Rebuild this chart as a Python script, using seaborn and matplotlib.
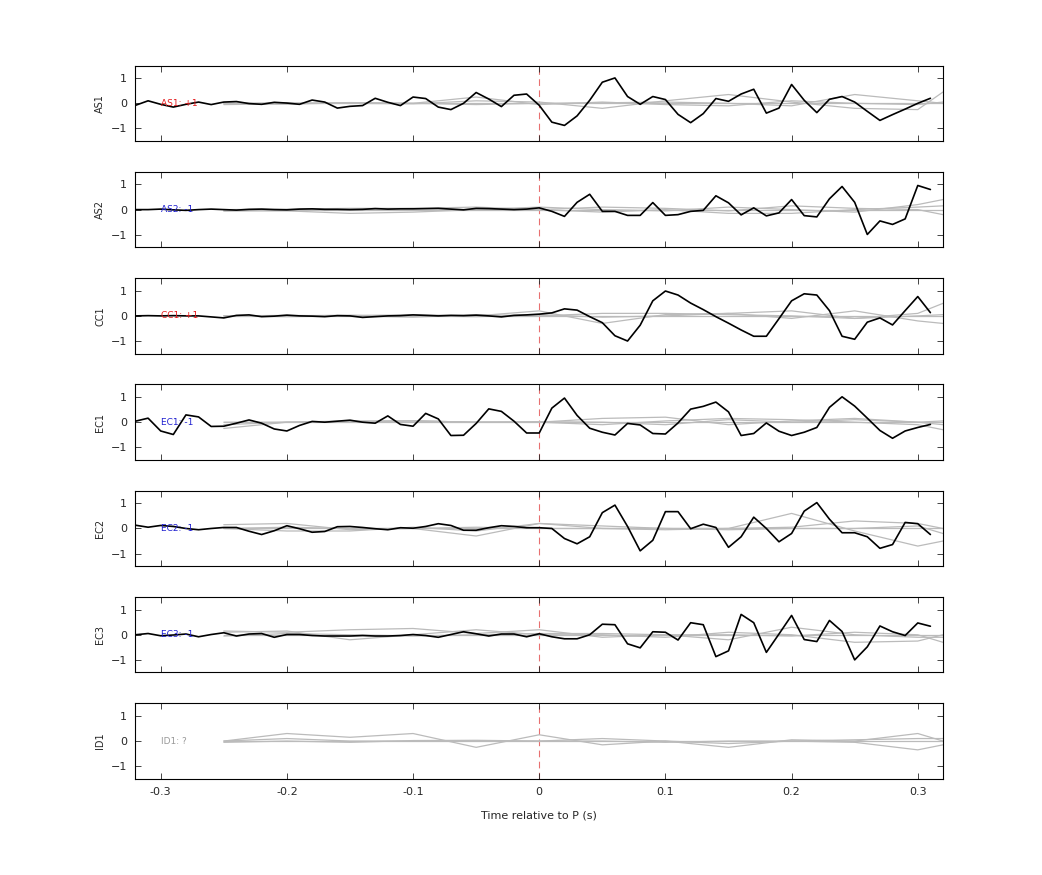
import numpy as np
import pandas as pd
import matplotlib
matplotlib.use("Agg")
import matplotlib.pyplot as plt
import seaborn as sns

stations = ["AS1", "AS2", "CC1", "EC1", "EC2", "EC3", "ID1"]
labels = ["AS1: +1", "AS2: -1", "CC1: +1", "EC1: -1", "EC2: -1", "EC3: -1", "ID1: ?"]
label_colors = ["#e41a1c", "#1f1fd0", "#e41a1c", "#1f1fd0", "#1f1fd0", "#1f1fd0", "#999999"]

t_black = np.round(np.arange(-0.32, 0.315, 0.01), 2)

as1 = [-0.08, 0.1, -0.04, -0.15, -0.04, 0.05, -0.05, 0.05, 0.07, -0.01, -0.04, 0.04, 0.01, -0.04, 0.13, 0.05,
       -0.19, -0.12, -0.09, 0.2, 0.04, -0.09, 0.25, 0.19, -0.15, -0.25, 0.0, 0.43, 0.17, -0.13, 0.32, 0.37,
       -0.08, -0.75, -0.88, -0.5, 0.12, 0.84, 1.01, 0.27, -0.04, 0.27, 0.15, -0.44, -0.77, -0.41, 0.19, 0.08,
       0.37, 0.56, -0.39, -0.19, 0.75, 0.12, -0.37, 0.16, 0.27, 0.05, -0.32, -0.68, -0.45, -0.23, 0.0, 0.2]
as2 = [0.0, 0.0, 0.02, -0.01, -0.03, 0.0, 0.02, 0.0, -0.02, 0.01, 0.02, 0.0, -0.01, 0.02, 0.03, 0.01,
       0.01, 0.0, 0.01, 0.04, 0.02, 0.03, 0.03, 0.04, 0.05, 0.02, -0.01, 0.05, 0.04, 0.02, 0.0, 0.02,
       0.07, -0.07, -0.27, 0.29, 0.61, -0.07, -0.07, -0.23, -0.23, 0.28, -0.23, -0.2, -0.07, -0.03, 0.55, 0.27,
       -0.21, 0.07, -0.25, -0.13, 0.4, -0.24, -0.29, 0.43, 0.92, 0.29, -0.99, -0.45, -0.59, -0.37, 0.96, 0.8]
cc1 = [0.0, 0.01, 0.0, 0.01, 0.0, 0.0, -0.04, -0.08, 0.02, 0.04, -0.03, -0.01, 0.03, 0.0, -0.01, -0.03,
       0.01, 0.0, -0.06, -0.03, 0.0, 0.01, 0.04, 0.02, 0.0, 0.02, 0.01, 0.03, 0.0, -0.04, 0.02, 0.04,
       0.07, 0.12, 0.28, 0.23, -0.03, -0.27, -0.79, -1.0, -0.37, 0.6, 0.99, 0.83, 0.51, 0.25, -0.03, -0.29,
       -0.56, -0.81, -0.81, -0.11, 0.6, 0.88, 0.83, 0.21, -0.81, -0.93, -0.25, -0.08, -0.36, 0.21, 0.77, 0.13]
ec1 = [0.04, 0.16, -0.35, -0.49, 0.29, 0.21, -0.17, -0.16, -0.04, 0.09, -0.04, -0.27, -0.35, -0.13, 0.03, 0.0,
       0.04, 0.08, 0.0, -0.04, 0.25, -0.09, -0.16, 0.35, 0.13, -0.53, -0.52, -0.05, 0.53, 0.43, 0.04, -0.43,
       -0.43, 0.56, 0.96, 0.27, -0.24, -0.4, -0.51, -0.05, -0.11, -0.45, -0.47, -0.03, 0.52, 0.63, 0.8, 0.41,
       -0.53, -0.45, -0.03, -0.36, -0.53, -0.4, -0.21, 0.59, 1.01, 0.64, 0.16, -0.33, -0.64, -0.35, -0.21, -0.09]
ec2 = [0.13, 0.05, 0.12, 0.08, 0.0, -0.05, 0.0, 0.04, 0.04, -0.11, -0.24, -0.09, 0.11, -0.01, -0.15, -0.12,
       0.07, 0.08, 0.04, -0.01, -0.05, 0.03, 0.01, 0.08, 0.19, 0.12, -0.07, -0.07, 0.03, 0.11, 0.08, 0.03,
       0.03, 0.0, -0.4, -0.61, -0.33, 0.63, 0.93, 0.08, -0.89, -0.47, 0.67, 0.67, -0.01, 0.17, 0.04, -0.75,
       -0.33, 0.45, 0.0, -0.53, -0.2, 0.69, 1.03, 0.37, -0.17, -0.17, -0.33, -0.79, -0.64, 0.24, 0.19, -0.24]
ec3 = [0.0, 0.05, -0.04, -0.01, 0.03, -0.08, 0.01, 0.08, -0.05, 0.03, 0.05, -0.1, 0.01, 0.01, -0.03, -0.05,
       -0.05, -0.05, -0.03, -0.05, -0.05, -0.03, 0.01, -0.03, -0.1, 0.01, 0.12, 0.04, -0.05, 0.03, 0.03, -0.08,
       0.04, -0.08, -0.16, -0.16, 0.0, 0.42, 0.4, -0.36, -0.52, 0.12, 0.1, -0.21, 0.48, 0.4, -0.87, -0.64,
       0.81, 0.48, -0.7, 0.03, 0.77, -0.19, -0.27, 0.57, 0.13, -1.0, -0.48, 0.35, 0.12, -0.03, 0.47, 0.34]
black_series = [as1, as2, cc1, ec1, ec2, ec3, None]

t_gray = [-0.25, -0.20, -0.15, -0.10, -0.05, 0.0, 0.05, 0.10, 0.15, 0.20, 0.25, 0.30, 0.32]
gray_series = [
    [[0.0, 0.02, 0.0, -0.02, 0.1, 0.05, -0.2, 0.1, 0.35, 0.05, -0.2, -0.25, 0.45],
     [0.0, -0.03, 0.02, 0.0, -0.05, 0.0, 0.02, 0.05, 0.0, -0.1, 0.35, 0.1, 0.0],
     [0.0, 0.0, 0.0, 0.0, 0.0, 0.0, 0.0, 0.0, 0.0, 0.0, 0.0, 0.0, 0.0],
     [-0.05, -0.02, 0.03, 0.0, 0.25, -0.05, 0.05, -0.05, -0.1, 0.1, 0.0, -0.05, 0.05]],
    [[-0.05, -0.05, -0.15, -0.1, 0.0, 0.1, 0.0, -0.05, 0.1, 0.0, -0.1, 0.2, 0.4],
     [0.0, 0.02, 0.05, 0.05, 0.1, 0.0, 0.1, 0.05, -0.05, 0.15, 0.05, 0.0, -0.2],
     [0.0, 0.0, 0.0, 0.0, 0.0, 0.0, 0.0, 0.0, 0.0, 0.0, 0.0, 0.0, 0.0],
     [-0.05, 0.0, 0.0, 0.05, 0.0, 0.0, -0.1, 0.0, -0.15, -0.15, 0.0, 0.1, 0.15]],
    [[0.0, 0.02, 0.0, 0.05, 0.0, 0.2, -0.3, 0.05, 0.1, -0.1, 0.2, -0.2, -0.3],
     [0.0, -0.03, 0.0, -0.05, 0.05, 0.0, 0.1, 0.1, 0.05, 0.0, -0.1, 0.1, 0.5],
     [0.0, 0.0, 0.0, 0.0, 0.0, 0.0, 0.0, 0.0, 0.0, 0.0, 0.0, 0.0, 0.0],
     [0.0, 0.0, 0.03, 0.0, -0.03, 0.05, -0.05, 0.0, 0.1, 0.2, -0.1, 0.0, 0.05]],
    [[-0.25, 0.0, 0.05, 0.05, 0.0, 0.0, 0.15, 0.2, -0.1, 0.05, 0.15, 0.0, -0.1],
     [0.0, 0.0, 0.02, 0.05, 0.0, 0.0, -0.1, 0.05, 0.15, 0.1, 0.0, -0.1, -0.3],
     [0.0, 0.0, 0.0, 0.0, 0.0, 0.0, 0.0, 0.0, 0.0, 0.0, 0.0, 0.0, 0.0],
     [-0.1, 0.0, 0.0, 0.05, 0.0, 0.02, 0.0, -0.1, 0.1, 0.0, 0.1, 0.0, 0.05]],
    [[0.15, 0.2, -0.05, 0.0, -0.3, 0.2, 0.1, 0.0, 0.0, 0.6, -0.1, -0.7, -0.5],
     [0.0, -0.1, -0.1, 0.05, -0.1, 0.2, 0.0, -0.05, 0.0, 0.05, 0.3, 0.2, 0.0],
     [0.0, 0.0, 0.0, 0.0, 0.0, 0.0, 0.0, 0.0, 0.0, 0.0, 0.0, 0.0, 0.0],
     [0.0, 0.05, 0.0, 0.0, 0.05, 0.0, 0.0, 0.0, -0.05, 0.0, 0.0, 0.1, -0.2]],
    [[0.15, 0.1, 0.2, 0.25, 0.05, 0.2, -0.1, 0.0, -0.2, 0.3, 0.0, -0.1, -0.1],
     [0.1, 0.15, -0.2, 0.0, 0.2, 0.0, 0.0, -0.1, 0.1, 0.0, -0.3, -0.25, 0.0],
     [0.0, 0.0, 0.0, 0.0, 0.0, 0.0, 0.0, 0.0, 0.0, 0.0, 0.0, 0.0, 0.0],
     [-0.05, 0.05, 0.0, -0.05, 0.0, 0.05, 0.05, 0.0, 0.0, -0.05, 0.1, 0.0, -0.3]],
    [[0.0, 0.3, 0.15, 0.3, -0.25, 0.25, -0.15, 0.0, -0.1, 0.0, -0.05, -0.35, -0.15],
     [0.0, 0.1, 0.0, 0.0, 0.0, 0.0, 0.1, 0.0, -0.25, 0.05, 0.0, 0.3, 0.0],
     [0.0, 0.0, 0.0, 0.0, 0.0, 0.0, 0.0, 0.0, 0.0, 0.0, 0.0, 0.0, 0.0],
     [-0.05, 0.0, -0.05, 0.02, 0.03, 0.0, 0.0, -0.05, 0.0, 0.0, 0.05, 0.1, 0.1]],
]

sns.set_style("white")
plt.rcParams["font.family"] = ["DejaVu Sans"]

fig, axes = plt.subplots(7, 1, figsize=(10.42, 8.75), dpi=100, sharex=True)
fig.subplots_adjust(left=0.13, right=0.905, top=0.925, bottom=0.11, hspace=0.41)

for i, ax in enumerate(axes):
    for g in gray_series[i]:
        sns.lineplot(x=t_gray, y=g, ax=ax, color="#bbbbbb", lw=0.9, estimator=None)
    if black_series[i] is not None:
        df = pd.DataFrame({"t": t_black, "v": black_series[i]})
        sns.lineplot(data=df, x="t", y="v", ax=ax, color="black", lw=1.2, estimator=None)
    ax.axvline(0, color="#e87070", ls=(0, (6, 4)), lw=0.8, zorder=0)
    ax.text(-0.30, 0, labels[i], color=label_colors[i], fontsize=6.5, va="center", ha="left")
    ax.set_xlim(-0.32, 0.32)
    ax.set_ylim(-1.5, 1.5)
    ax.set_yticks([-1, 0, 1])
    ax.set_xticks([-0.3, -0.2, -0.1, 0, 0.1, 0.2, 0.3])
    ax.set_xticklabels(["-0.3", "-0.2", "-0.1", "0", "0.1", "0.2", "0.3"])
    ax.set_ylabel(stations[i], fontsize=7)
    ax.set_xlabel("")
    ax.tick_params(direction="in", length=4, labelsize=8, top=True, right=True,
                   bottom=True, left=True, width=0.6, pad=6)
    for s in ax.spines.values():
        s.set_color("black")
        s.set_linewidth(0.8)

axes[-1].set_xlabel("Time relative to P (s)", fontsize=8, labelpad=10)
fig.savefig("out.png", dpi=100)
